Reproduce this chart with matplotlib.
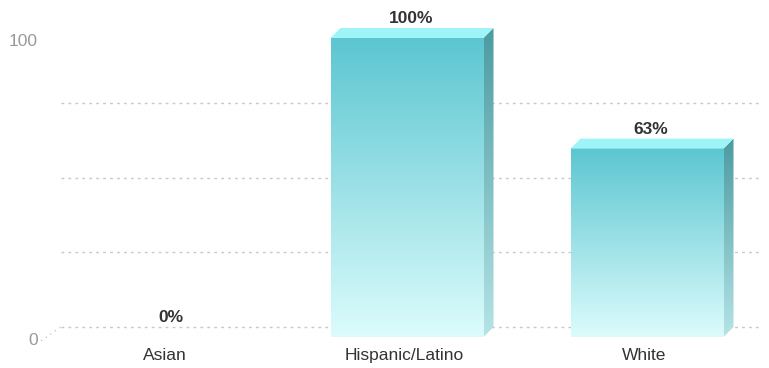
import matplotlib.pyplot as plt
import numpy as np
from matplotlib.colors import LinearSegmentedColormap
from matplotlib.patches import Polygon

plt.rcParams['font.family'] = ['Liberation Sans', 'DejaVu Sans']

categories = ['Asian', 'Hispanic/Latino', 'White']
values = [0, 100, 63]
value_labels = ['0%', '100%', '63%']
grid_levels = [0, 25, 50, 75]

W, H = 769, 368
fig = plt.figure(figsize=(W / 100, H / 100), dpi=100)

# axes placed in pixel terms: x=0 category at px 167, 240 px per category,
# y=0 at px 337, 2.99 px per unit
px_per_x = 240.0
px_per_y = 2.99
left_px, right_px, top_px, bottom_px = 46, 762, 10, 346
ax = fig.add_axes([left_px / W, (H - bottom_px) / H,
                   (right_px - left_px) / W, (bottom_px - top_px) / H])
ax.set_xlim((left_px - 167) / px_per_x, (right_px - 167) / px_per_x)
ax.set_ylim((337 - bottom_px) / px_per_y, (337 - top_px) / px_per_y)
ax.axis('off')

dx = 10 / px_per_x
dy = 10 / px_per_y
bar_w = 153 / px_per_x

# back-plane grid lines
x0, x1 = ax.get_xlim()
for g in grid_levels:
    ax.plot([x0 + dx + 0.02, x1], [g + dy, g + dy], color='#c8c8c8',
            lw=1, linestyle=(0, (2, 3)), zorder=1)
ax.plot([x0 - 0.02, x0 + dx + 0.02], [-1.3, dy], color='#c8c8c8',
        lw=1, linestyle=(0, (1, 3)), zorder=1, clip_on=False)

front_cmap = LinearSegmentedColormap.from_list('front', ['#dcfcfc', '#5cc6d1'])
side_cmap = LinearSegmentedColormap.from_list('side', ['#b5e4e6', '#4a9ba1'])
grad = np.linspace(0, 1, 256).reshape(-1, 1)

for i, (cat, v, lab) in enumerate(zip(categories, values, value_labels)):
    bx0 = i - bar_w / 2
    bx1 = i + bar_w / 2
    if v > 0:
        ax.imshow(grad, cmap=front_cmap, origin='lower', aspect='auto',
                  extent=[bx0, bx1, 0, v], zorder=3)
        side = Polygon([(bx1, 0), (bx1, v), (bx1 + dx, v + dy), (bx1 + dx, dy)],
                       closed=True, facecolor='none', edgecolor='none')
        ax.add_patch(side)
        im = ax.imshow(grad, cmap=side_cmap, origin='lower', aspect='auto',
                       extent=[bx1, bx1 + dx, 0, v + dy], zorder=3)
        im.set_clip_path(side)
        top = Polygon([(bx0, v), (bx1, v), (bx1 + dx, v + dy), (bx0 + dx, v + dy)],
                      closed=True, facecolor='#9ef4f6', edgecolor='none', zorder=4)
        ax.add_patch(top)
    ax.text(i + dx / 2 - 0.005, v + 6.5, lab, ha='center', va='center',
            fontsize=12.5, fontweight='bold', color='#333333', clip_on=False)
    ax.text(i - 0.01, -6.2, cat, ha='center', va='center', fontsize=12.5,
            color='#333333', clip_on=False)

ax.set_xlim(x0, x1)

# y tick labels
ax.text(x0 - 8 / px_per_x, 100 - 1.3, '100', ha='right', va='center',
        fontsize=12.5, color='#999999', clip_on=False)
ax.text(x0 - 8 / px_per_x, -1.3, '0', ha='right', va='center',
        fontsize=12.5, color='#999999', clip_on=False)

fig.savefig('out.png', dpi=100)
